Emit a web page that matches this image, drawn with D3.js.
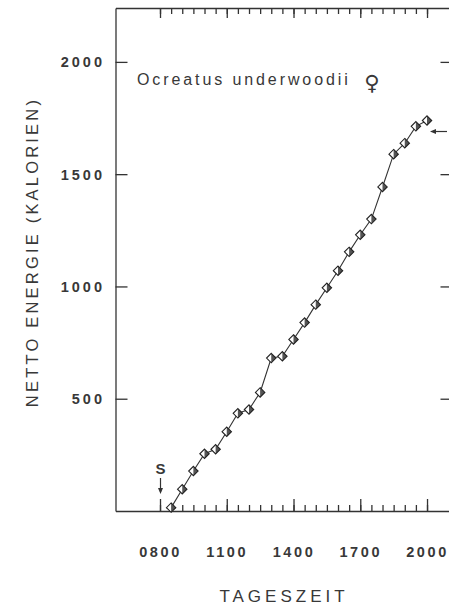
<!DOCTYPE html>
<html>
<head>
<meta charset="utf-8">
<script src="https://cdn.jsdelivr.net/npm/d3@7"></script>
<style>
    body { margin: 0; background: #fff; }
    svg text { font-family: "Liberation Sans", Arial, sans-serif; fill: #383838; }
</style>
</head>
<body>
<script>
// half hour readings, hour of day
var hours = [8.5, 9, 9.5, 10, 10.5, 11, 11.5, 12, 12.5, 13, 13.5, 14, 14.5, 15, 15.5, 16, 16.5, 17, 17.5, 18, 18.5, 19, 19.5, 20];
var energy = [15, 97, 178, 255, 275, 353, 435, 452, 528, 681, 689, 764, 839, 919, 994, 1070, 1154, 1230, 1300, 1443, 1589, 1638, 1713, 1739];

var xMajor = [8, 11, 14, 17, 20];
var xTickLabels = ["0800", "1100", "1400", "1700", "2000"];
var yTicks = [500, 1000, 1500, 2000];
var yTickLabels = ["500", "1000", "1500", "2000"];

var startHour = 8;      // "S" marker
var endValue = 1690;    // arrow on the right

var title = "Ocreatus underwoodii";

function draw_chart() {

    var svg = d3.select("body").append("svg").attr("width", 449).attr("height", 607);

    var x = d3.scaleLinear().domain([6, 21.1]).range([115.5, 451.5]);
    var y = d3.scaleLinear().domain([0, 2240]).range([511, 8]);

    var minor = d3.range(8, 20.01, 0.5);
    var ink = "#333";

    // bottom axis, ticks point inward
    svg.append("g")
        .attr("transform", "translate(0," + y(0) + ")")
        .call(d3.axisBottom(x).tickValues(minor).tickSize(-6).tickSizeOuter(0).tickFormat(""));
    svg.append("g")
        .attr("transform", "translate(0," + y(0) + ")")
        .call(d3.axisBottom(x).tickValues(xMajor).tickSize(-12).tickSizeOuter(0).tickFormat(""))
        .select(".domain").remove();

    // top axis
    svg.append("g")
        .attr("transform", "translate(0," + y(2240) + ")")
        .call(d3.axisTop(x).tickValues(minor).tickSize(-6).tickSizeOuter(0).tickFormat(""));
    svg.append("g")
        .attr("transform", "translate(0," + y(2240) + ")")
        .call(d3.axisTop(x).tickValues(xMajor).tickSize(-10).tickSizeOuter(0).tickFormat(""))
        .select(".domain").remove();

    // left axis
    svg.append("g")
        .attr("transform", "translate(" + x(6) + ",0)")
        .call(d3.axisLeft(y).tickValues(yTicks).tickSize(-12).tickSizeOuter(0).tickFormat(""));

    // right ticks (frame edge is cut off)
    svg.append("g")
        .attr("transform", "translate(" + x(21.1) + ",0)")
        .call(d3.axisRight(y).tickValues(yTicks).tickSize(-11).tickSizeOuter(0).tickFormat(""))
        .select(".domain").remove();

    svg.selectAll(".domain, .tick line")
        .attr("stroke", ink)
        .attr("stroke-width", 1.3);

    // tick labels
    svg.selectAll(".xlab")
        .data(xMajor)
        .enter().append("text")
        .attr("class", "xlab")
        .attr("x", function (d) { return x(d) + 0.5; })
        .attr("y", 557)
        .attr("text-anchor", "middle")
        .style("font-size", "14.5px")
        .style("font-weight", "bold")
        .style("letter-spacing", "2.6px")
        .text(function (d, i) { return xTickLabels[i]; });

    svg.selectAll(".ylab")
        .data(yTicks)
        .enter().append("text")
        .attr("class", "ylab")
        .attr("x", 105)
        .attr("y", function (d) { return y(d) + 5.5; })
        .attr("text-anchor", "end")
        .style("font-size", "14.5px")
        .style("font-weight", "bold")
        .style("letter-spacing", "3px")
        .text(function (d, i) { return yTickLabels[i]; });

    // axis titles
    svg.append("text")
        .attr("x", 284)
        .attr("y", 602)
        .attr("text-anchor", "middle")
        .style("font-size", "17px")
        .style("letter-spacing", "4px")
        .text("TAGESZEIT");

    svg.append("text")
        .attr("transform", "translate(38,252) rotate(-90)")
        .attr("text-anchor", "middle")
        .style("font-size", "16.5px")
        .style("letter-spacing", "3.2px")
        .text("NETTO ENERGIE (KALORIEN)");

    // species label
    svg.append("text")
        .attr("x", 137)
        .attr("y", 85)
        .style("font-size", "16px")
        .style("letter-spacing", "2.9px")
        .text(title);
    svg.append("text")
        .attr("x", 372)
        .attr("y", 90)
        .attr("text-anchor", "middle")
        .style("font-family", "DejaVu Sans")
        .style("font-size", "21px")
        .style("font-weight", "bold")
        .text("\u2640");

    // curve
    var pts = hours.map(function (h, i) { return [h, energy[i]]; });
    var line = d3.line()
        .x(function (d) { return x(d[0]); })
        .y(function (d) { return y(d[1]); });

    svg.append("path")
        .datum(pts)
        .attr("d", line)
        .attr("fill", "none")
        .attr("stroke", ink)
        .attr("stroke-width", 1.1);

    var r = 4.7;
    var marks = svg.selectAll(".pt")
        .data(pts)
        .enter().append("g")
        .attr("class", "pt")
        .attr("transform", function (d) {
            return "translate(" + x(d[0]) + "," + y(d[1]) + ")";
        });

    marks.append("path")
        .attr("d", "M0," + (-r) + "L" + r + ",0L0," + r + "L" + (-r) + ",0Z")
        .attr("fill", "#fff");
    marks.append("path")
        .attr("d", "M0," + (-r) + "L" + r + ",0L0," + r + "Z")
        .attr("fill", "#555");
    marks.append("path")
        .attr("d", "M0," + (-r) + "L" + r + ",0L0," + r + "L" + (-r) + ",0Z")
        .attr("fill", "none")
        .attr("stroke", "#222")
        .attr("stroke-width", 1.1);

    // start marker "S"
    var sx = x(startHour) + 0.5;
    svg.append("text")
        .attr("x", sx)
        .attr("y", 474)
        .attr("text-anchor", "middle")
        .style("font-size", "15px")
        .style("font-weight", "bold")
        .text("S");
    svg.append("line")
        .attr("x1", sx).attr("x2", sx)
        .attr("y1", 478).attr("y2", 492)
        .attr("stroke", ink).attr("stroke-width", 1.2);
    svg.append("path")
        .attr("d", "M" + (sx - 2.5) + ",488L" + sx + ",494L" + (sx + 2.5) + ",488Z")
        .attr("fill", ink);

    // end arrow at right
    var ey = y(endValue);
    svg.append("line")
        .attr("x1", 433).attr("x2", 447)
        .attr("y1", ey).attr("y2", ey)
        .attr("stroke", ink).attr("stroke-width", 1.2);
    svg.append("path")
        .attr("d", "M430," + ey + "L436," + (ey - 2.5) + "L436," + (ey + 2.5) + "Z")
        .attr("fill", ink);
}

draw_chart();
</script>
</body>
</html>
